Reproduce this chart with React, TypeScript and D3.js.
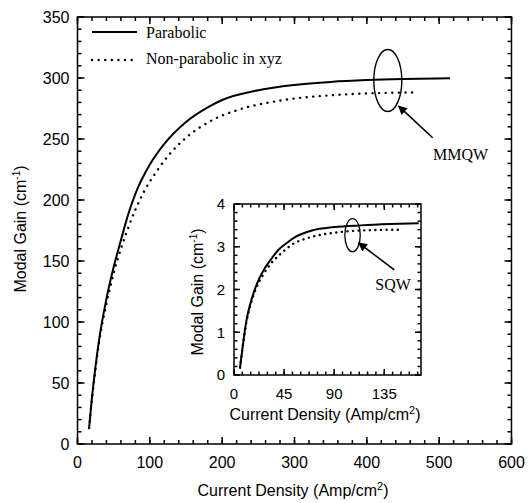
import * as d3 from 'd3'

// main plot: modal gain vs current density (MMQW)
const mainParabolicX = [16, 20, 25, 30, 40, 50, 60, 70, 80, 100, 120, 150, 180, 200, 250, 300, 350, 400, 450, 515]
const mainParabolicY = [13, 38, 64, 86, 119, 145, 167, 188, 205, 229, 246, 264, 276, 282, 290, 294.3, 296.8, 298.3, 299.2, 299.8]
const mainNonParabolicX = [16, 20, 25, 30, 40, 50, 60, 70, 80, 93, 110, 125, 150, 188, 220, 280, 350, 400, 465]
const mainNonParabolicY = [13, 37, 62, 84, 115, 140, 160, 177, 192, 208, 224, 236, 251, 266, 273.5, 281.5, 285.8, 287.3, 288.2]

// inset: SQW
const insetParabolicX = [5.4, 7, 9, 11, 14, 18, 22, 27, 32, 40, 48, 56, 70, 90, 114, 140, 166]
const insetParabolicY = [0.17, 0.5, 0.9, 1.25, 1.6, 1.95, 2.22, 2.47, 2.66, 2.93, 3.1, 3.24, 3.38, 3.46, 3.5, 3.53, 3.55]
const insetNonParabolicX = [5.4, 7, 9, 11, 14, 18, 22, 27, 33, 41, 52, 67, 91, 114, 150]
const insetNonParabolicY = [0.17, 0.5, 0.88, 1.22, 1.56, 1.9, 2.15, 2.38, 2.6, 2.81, 3.05, 3.21, 3.33, 3.38, 3.4]

const mainXTicks = [0, 100, 200, 300, 400, 500, 600]
const mainYTicks = [0, 50, 100, 150, 200, 250, 300, 350]
const insetXTicks = [0, 45, 90, 135]
const insetYTicks = [0, 1, 2, 3, 4]

const legendLabels = ['Parabolic', 'Non-parabolic in xyz']

const W = 532
const H = 503
const SANS = '"Liberation Sans", Arial, sans-serif'
const SERIF = '"Liberation Serif", "Times New Roman", serif'

function Frame({ x, y, xMajor, yMajor, xMinor, yMinor, majorLen, minorLen, xPad, yPad, fontSize, fill }) {
    const [x0, x1] = x.range()
    const [y0, y1] = y.range()
    const xt = xMinor.map(v => [v, minorLen]).concat(xMajor.map(v => [v, majorLen]))
    const yt = yMinor.map(v => [v, minorLen]).concat(yMajor.map(v => [v, majorLen]))
    return (
        <g>
            <rect x={x0} y={y1} width={x1 - x0} height={y0 - y1} fill={fill} stroke="#000" strokeWidth={1.5} />
            <g stroke="#000" strokeWidth={1.5}>
                {xt.map(([v, len], i) => (
                    <g key={'x' + i}>
                        <line x1={x(v)} x2={x(v)} y1={y0} y2={y0 - len} />
                        <line x1={x(v)} x2={x(v)} y1={y1} y2={y1 + len} />
                    </g>
                ))}
                {yt.map(([v, len], i) => (
                    <g key={'y' + i}>
                        <line x1={x0} x2={x0 + len} y1={y(v)} y2={y(v)} />
                        <line x1={x1} x2={x1 - len} y1={y(v)} y2={y(v)} />
                    </g>
                ))}
            </g>
            {xMajor.map(v => (
                <text key={'xl' + v} x={x(v)} y={y0 + xPad} textAnchor="middle"
                    fontFamily={SANS} fontSize={fontSize} fill="#000">{v}</text>
            ))}
            {yMajor.map(v => (
                <text key={'yl' + v} x={x0 - yPad} y={y(v)} dy="0.36em" textAnchor="end"
                    fontFamily={SANS} fontSize={fontSize} fill="#000">{v}</text>
            ))}
        </g>
    )
}

function Series({ x, y, xs, ys, dotted, dotGap }) {
    const pts = xs.map((v, i) => [v, ys[i]])
    const line = d3.line().x(d => x(d[0])).y(d => y(d[1])).curve(d3.curveMonotoneX)
    return (
        <path d={line(pts)} fill="none" stroke="#000"
            strokeWidth={dotted ? 2.4 : 2}
            strokeLinecap={dotted ? 'round' : 'butt'}
            strokeDasharray={dotted ? `0.1 ${dotGap}` : undefined} />
    )
}

function GainLabel({ tx, ty }) {
    return (
        <text transform={`translate(${tx},${ty}) rotate(-90)`} textAnchor="middle"
            fontFamily={SANS} fontSize={16} fill="#000">
            <tspan>Modal Gain (cm</tspan>
            <tspan dy={-6} fontSize={10}>-1</tspan>
            <tspan dy={6}>)</tspan>
        </text>
    )
}

function DensityLabel({ tx, ty }) {
    return (
        <text x={tx} y={ty} textAnchor="middle" fontFamily={SANS} fontSize={16} fill="#000">
            <tspan>Current Density (Amp/cm</tspan>
            <tspan dy={-6} fontSize={11}>2</tspan>
            <tspan dy={6}>)</tspan>
        </text>
    )
}

export default function App() {
    const x = d3.scaleLinear().domain([0, 600]).range([77.5, 511.5])
    const y = d3.scaleLinear().domain([0, 350]).range([444, 17])
    const ix = d3.scaleLinear().domain([0, 168]).range([234, 421])
    const iy = d3.scaleLinear().domain([0, 4]).range([375, 204])
    const legendY = [32, 60]

    return (
        <svg width={W} height={H}
            style={{ position: 'absolute', left: 0, top: 0, background: '#fff' }}>
            <defs>
                <marker id="arrowhead" viewBox="0 0 10 10" refX={9} refY={5}
                    markerWidth={12} markerHeight={9} markerUnits="userSpaceOnUse" orient="auto">
                    <path d="M0,0 L10,5 L0,10 z" fill="#000" />
                </marker>
            </defs>

            {/* main panel */}
            <Frame x={x} y={y} xMajor={mainXTicks} yMajor={mainYTicks}
                xMinor={d3.range(0, 601, 20)} yMinor={d3.range(0, 351, 10)}
                majorLen={7} minorLen={4} xPad={24} yPad={8} fontSize={16} fill="none" />
            <Series x={x} y={y} xs={mainParabolicX} ys={mainParabolicY} dotted={false} dotGap={0} />
            <Series x={x} y={y} xs={mainNonParabolicX} ys={mainNonParabolicY} dotted={true} dotGap={6.5} />
            <DensityLabel tx={293} ty={496} />
            <GainLabel tx={26} ty={229} />

            {legendLabels.map((lab, i) => (
                <g key={lab}>
                    <line x1={92} x2={137} y1={legendY[i]} y2={legendY[i]} stroke="#000"
                        strokeWidth={i ? 2.4 : 2} strokeLinecap={i ? 'round' : 'butt'}
                        strokeDasharray={i ? '0.1 6.5' : undefined} />
                    <text x={146} y={legendY[i] + 6 - i * 2} fontFamily={SERIF} fontSize={16} fill="#000">{lab}</text>
                </g>
            ))}

            <ellipse cx={x(429)} cy={y(298)} rx={14} ry={31} fill="none" stroke="#000" strokeWidth={1.4} />
            <line x1={x(491)} y1={y(251)} x2={x(444)} y2={y(277)} stroke="#000" strokeWidth={1.6}
                markerEnd="url(#arrowhead)" />
            <text x={x(491.5)} y={y(233)} fontFamily={SERIF} fontSize={16} fill="#000">MMQW</text>

            {/* inset panel */}
            <Frame x={ix} y={iy} xMajor={insetXTicks} yMajor={insetYTicks}
                xMinor={d3.range(0, 168, 7.5)} yMinor={d3.range(0, 4.01, 0.2)}
                majorLen={6} minorLen={3.5} xPad={24} yPad={9} fontSize={15} fill="#fff" />
            <Series x={ix} y={iy} xs={insetParabolicX} ys={insetParabolicY} dotted={false} dotGap={0} />
            <Series x={ix} y={iy} xs={insetNonParabolicX} ys={insetNonParabolicY} dotted={true} dotGap={5.5} />
            <DensityLabel tx={325} ty={420} />
            <GainLabel tx={203} ty={292} />

            <ellipse cx={ix(106.5)} cy={iy(3.27)} rx={7.7} ry={16.5} fill="none" stroke="#000" strokeWidth={1.3} />
            <line x1={ix(144)} y1={iy(2.46)} x2={ix(112)} y2={iy(3.09)} stroke="#000" strokeWidth={1.6}
                markerEnd="url(#arrowhead)" />
            <text x={ix(127)} y={iy(1.99)} fontFamily={SERIF} fontSize={16} fill="#000">SQW</text>
        </svg>
    )
}
